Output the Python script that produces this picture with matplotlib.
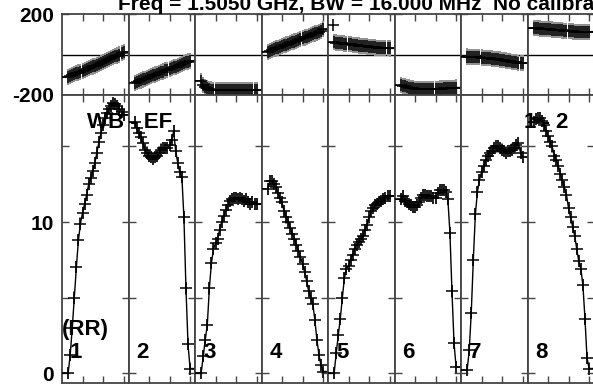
import matplotlib
matplotlib.use("Agg")
import matplotlib.pyplot as plt
from matplotlib.ticker import FixedLocator, FixedFormatter

plt.rcParams['font.family'] = ['Liberation Sans', 'DejaVu Sans']
plt.rcParams['font.weight'] = 'bold'

# ---------------- data ----------------
baselines = ["1", "2", "3", "4", "5", "6", "7", "8"]
channels = list(range(3, 31))  # 28 channels per panel

amp_1 = [0.0, 1.2, 3.0, 5.0, 7.0, 8.8, 9.9, 10.6, 11.2, 11.8, 12.5, 12.9, 13.4, 13.9,
         14.6, 15.3, 15.9, 16.4, 16.9, 17.2, 17.5, 17.7, 17.9, 17.8, 17.7, 17.5, 17.3, 17.1]
amp_2 = [16.6, 16.2, 15.9, 15.6, 15.2, 14.8, 14.6, 14.4, 14.3, 14.2, 14.3, 14.4, 14.6, 14.8,
         14.9, 14.9, 14.9, 15.1, 15.4, 16.0, 14.7, 13.9, 13.3, 13.0, 10.3, 5.6, 1.9, 0.3]
amp_3 = [0.0, 1.1, 2.2, 3.2, 5.6, 7.3, 8.2, 8.6, 8.9, 9.5, 10.0, 10.4, 10.8, 11.1,
         11.4, 11.5, 11.6, 11.6, 11.5, 11.6, 11.5, 11.4, 11.5, 11.3, 11.2, 11.3, 11.2, 11.2]
amp_4 = [12.2, 12.7, 12.7, 12.5, 12.3, 11.9, 11.6, 11.3, 10.7, 10.3, 10.0, 9.6, 9.2, 8.9,
         8.5, 8.1, 7.7, 7.2, 6.7, 6.1, 5.4, 5.0, 4.6, 3.5, 2.2, 1.2, 0.5, 0.1]
amp_5 = [0.0, 1.3, 2.5, 3.6, 5.0, 6.3, 6.9, 7.1, 7.5, 7.8, 8.2, 8.5, 8.7, 8.9,
         9.1, 9.5, 9.8, 10.3, 10.7, 10.9, 11.1, 11.2, 11.3, 11.4, 11.5, 11.6, 11.7, 11.7]
amp_6 = [11.5, 11.7, 11.4, 11.3, 11.2, 11.1, 11.0, 11.0, 11.1, 11.3, 11.6, 11.8, 11.8, 11.7,
         11.7, 11.7, 11.6, 11.6, 11.9, 12.1, 12.1, 12.1, 12.0, 11.5, 9.3, 5.4, 2.0, 0.4]
amp_7 = [0.2, 1.5, 4.0, 7.5, 10.5, 12.0, 12.8, 13.3, 13.7, 14.1, 14.4, 14.6, 14.7, 14.9,
         15.0, 15.0, 14.9, 14.8, 14.7, 14.6, 14.7, 14.7, 14.8, 14.9, 15.1, 15.2, 14.6, 14.3]
amp_8 = [16.6, 16.8, 16.9, 16.9, 16.7, 16.4, 16.0, 15.7, 15.3, 15.0, 14.4, 14.1, 13.7, 13.2,
         12.8, 12.3, 11.8, 10.9, 10.3, 9.7, 9.1, 8.2, 7.4, 6.9, 5.8, 3.6, 1.0, 0.3]

phase_1 = [-112, -106, -103, -98, -93, -89, -85, -80, -76, -72, -68, -63, -59, -55,
           -50, -45, -41, -37, -32, -27, -23, -18, -14, -9, -5, 0, 6, 13]
phase_2 = [-139, -136, -131, -128, -123, -120, -115, -111, -108, -103, -99, -96, -91, -87,
           -84, -79, -75, -72, -67, -63, -60, -55, -51, -48, -43, -39, -35, -31]
phase_3 = [-130, -150, -160, -167, -171, -173, -175, -176, -176, -176, -176, -177, -176, -176,
           -176, -176, -177, -176, -176, -176, -176, -176, -176, -176, -177, -176, -176, -176]
phase_4 = [14, 18, 22, 26, 30, 34, 38, 41, 45, 49, 53, 57, 61, 64,
           68, 72, 76, 80, 84, 88, 92, 96, 100, 104, 108, 113, 118, 125]
phase_5 = [60, 59, 58, 57, 55, 54, 53, 51, 50, 48, 47, 46, 44, 43,
           42, 41, 40, 38, 37, 36, 35, 34, 33, 33, 32, 31, 31, 30]
phase_5_outlier = 146
phase_6 = [-152, -155, -158, -161, -163, -165, -167, -169, -170, -171, -172, -172, -172, -172,
           -171, -171, -170, -170, -169, -168, -168, -167, -166, -166, -165, -164, -164, -163]
phase_7 = [-10, -11, -12, -12, -13, -14, -14, -15, -16, -17, -18, -19, -20, -21,
           -22, -23, -25, -26, -28, -30, -32, -34, -36, -37, -39, -40, -42, -43]
phase_8 = [130, 129, 129, 128, 127, 127, 126, 125, 124, 123, 122, 122, 121, 120,
           119, 118, 117, 116, 115, 114, 113, 112, 112, 111, 111, 112, 112, 113]

amp_err = 0.4
phase_err = 40

amps = [amp_1, amp_2, amp_3, amp_4, amp_5, amp_6, amp_7, amp_8]
phases = [phase_1, phase_2, phase_3, phase_4, phase_5, phase_6, phase_7, phase_8]

# ---------------- layout ----------------
W, H = 593, 386
fig = plt.figure(figsize=(W / 100, H / 100), dpi=100)

def fx(px):
    return px / W

def fy(py):
    return 1 - py / H

x0, pw = 62, 66.5
top_t, top_b = 14, 95
bot_t, bot_b = 95, 383
XLIM = (0, 32.4)
frame_col = '#444444'

def style(ax):
    for s in ax.spines.values():
        s.set_color(frame_col)
        s.set_linewidth(1.3)
    ax.tick_params(direction='in', length=5, width=1, colors=frame_col,
                   top=True, bottom=True, left=True, right=True,
                   labelbottom=False, labeltop=False, labelright=False,
                   labelleft=False, labelsize=15, labelcolor='black', pad=6)
    ax.xaxis.set_major_locator(FixedLocator([10, 20, 30]))
    ax.set_xlim(*XLIM)

def draw(ax, y, err):
    ax.errorbar(channels, y, yerr=err, fmt='none', ecolor='#8f8f8f',
                elinewidth=1.4, capsize=0, zorder=2)
    lx = [XLIM[0]] + channels + [XLIM[1]]
    ly = [y[0]] + y + [y[-1]]
    ax.plot(lx, ly, color='black', lw=1.0, zorder=3)
    ax.plot(channels, y, linestyle='none', marker='+', ms=8, mew=1.1,
            color='black', zorder=4)

for i in range(8):
    left = x0 + pw * i
    axt = fig.add_axes([fx(left), fy(top_b), pw / W, (top_b - top_t) / H])
    style(axt)
    axt.set_ylim(-200, 200)
    axt.yaxis.set_major_locator(FixedLocator([-200, 200]))
    axt.yaxis.set_major_formatter(FixedFormatter(['-200', '200']))
    axt.axhline(0, color='black', lw=1.0, zorder=1)
    draw(axt, phases[i], phase_err)
    if i == 4:
        axt.plot([channels[0] - 0.6], [phase_5_outlier], linestyle='none', marker='+',
                 ms=8, mew=1.1, color='black', zorder=4)
    if i == 0:
        axt.tick_params(labelleft=True)

    axb = fig.add_axes([fx(left), fy(bot_b), pw / W, (bot_b - bot_t) / H])
    style(axb)
    axb.set_ylim(-0.66, 18.41)
    axb.yaxis.set_major_locator(FixedLocator([0, 5, 10, 15]))
    axb.yaxis.set_major_formatter(FixedFormatter(['0', '', '10', '']))
    draw(axb, amps[i], amp_err)
    if i == 0:
        axb.tick_params(labelleft=True)
    fig.text(fx(left + 8), fy(353), baselines[i], fontsize=16, fontweight='bold',
             ha='left', va='center', zorder=10)

fig.text(fx(87), fy(122), 'WB - EF', fontsize=16, fontweight='bold',
         ha='left', va='center', zorder=10)
fig.text(fx(524), fy(123), '1 - 2', fontsize=16, fontweight='bold',
         ha='left', va='center', zorder=10)
fig.text(fx(62), fy(330), '(RR)', fontsize=16, fontweight='bold',
         ha='left', va='center', zorder=10)
fig.text(fx(118), fy(4), 'Freq = 1.5050 GHz, BW = 16.000 MHz  No calibration',
         fontsize=15, fontweight='bold', ha='left', va='center', zorder=10)

fig.savefig('out.png', dpi=100)
